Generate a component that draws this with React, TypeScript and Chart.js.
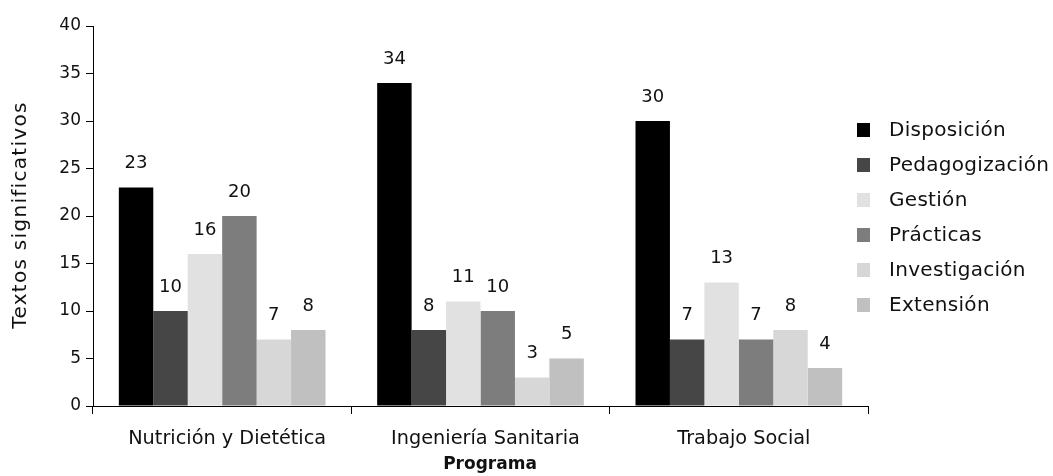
import React, { useEffect, useRef } from "react";
import { Chart, registerables } from "chart.js";

Chart.register(...registerables);

const categories = ["Nutrición y Dietética", "Ingeniería Sanitaria", "Trabajo Social"];
const seriesNames = ["Disposición", "Pedagogización", "Gestión", "Prácticas", "Investigación", "Extensión"];
const disposicion = [23, 34, 30];
const pedagogizacion = [10, 8, 7];
const gestion = [16, 11, 13];
const practicas = [20, 10, 7];
const investigacion = [7, 3, 8];
const extension = [8, 5, 4];
const seriesColors = ["#000000", "#464646", "#e1e1e1", "#7d7d7d", "#d7d7d7", "#c0c0c0"];
const yTicks = [0, 5, 10, 15, 20, 25, 30, 35, 40];

const FONT = "'DejaVu Sans', sans-serif";

export default function App() {
  const ref = useRef<HTMLCanvasElement>(null);
  useEffect(() => {
    document.body.style.margin = "0";
    const values = [disposicion, pedagogizacion, gestion, practicas, investigacion, extension];
    const overlay = {
      id: "overlay",
      afterDatasetsDraw(chart: any) {
        const ctx = chart.ctx;
        ctx.save();
        ctx.fillStyle = "#111";
        ctx.font = `18px ${FONT}`;
        ctx.textAlign = "center";
        ctx.textBaseline = "middle";
        chart.data.datasets.forEach((ds: any, i: number) => {
          const meta = chart.getDatasetMeta(i);
          meta.data.forEach((bar: any, j: number) => {
            ctx.fillText(String(ds.data[j]), bar.x, bar.y - 24);
          });
        });
        // legend
        ctx.textAlign = "left";
        ctx.font = `20px ${FONT}`;
        (ctx as any).letterSpacing = "0.3px";
        seriesNames.forEach((name, i) => {
          const cy = 130 + i * 35;
          ctx.fillStyle = seriesColors[i];
          ctx.fillRect(857, cy - 7, 13, 14);
          ctx.fillStyle = "#111";
          ctx.fillText(name, 889, cy + 1);
        });
        // axis titles
        ctx.font = `20px ${FONT}`;
        (ctx as any).letterSpacing = "1.3px";
        ctx.textAlign = "center";
        ctx.save();
        ctx.translate(21, 215);
        ctx.rotate(-Math.PI / 2);
        ctx.fillText("Textos significativos", 0, 0);
        ctx.restore();
        (ctx as any).letterSpacing = "0px";
        ctx.font = `bold 17px ${FONT}`;
        ctx.fillText("Programa", 490, 465);
        ctx.restore();
      },
    };
    const chart = new Chart(ref.current!, {
      type: "bar",
      data: {
        labels: categories,
        datasets: seriesNames.map((name, i) => ({
          label: name,
          data: values[i],
          backgroundColor: seriesColors[i],
          borderWidth: 0,
          categoryPercentage: 0.8,
          barPercentage: 1.0,
        })),
      },
      options: {
        responsive: false,
        animation: false,
        devicePixelRatio: 1,
        layout: { padding: { top: 26, right: 185, left: 0, bottom: 0 } },
        plugins: { legend: { display: false }, tooltip: { enabled: false } },
        scales: {
          x: {
            grid: { display: true, drawOnChartArea: false, offset: true, tickLength: 8, color: "#000", lineWidth: 1 },
            border: { display: true, color: "#000", width: 1 },
            ticks: { color: "#111", font: { family: FONT, size: 19.3 }, padding: 13, labelOffset: 5 },
            afterFit: (s: any) => { s.height = 70; },
          },
          y: {
            min: 0,
            max: 40,
            afterBuildTicks: (s: any) => { s.ticks = yTicks.map((v) => ({ value: v })); },
            grid: { display: true, drawOnChartArea: false, tickLength: 7, color: "#000", lineWidth: 1 },
            border: { display: true, color: "#000", width: 1 },
            ticks: { color: "#111", font: { family: FONT, size: 17 }, padding: 5 },
            afterFit: (s: any) => { s.width = 93; },
          },
        },
      },
      plugins: [overlay],
    });
    return () => chart.destroy();
  }, []);
  return (
    <div style={{ position: "relative", width: 1053, height: 476 }}>
      <canvas ref={ref} width={1053} height={476} style={{ display: "block" }} />
    </div>
  );
}
